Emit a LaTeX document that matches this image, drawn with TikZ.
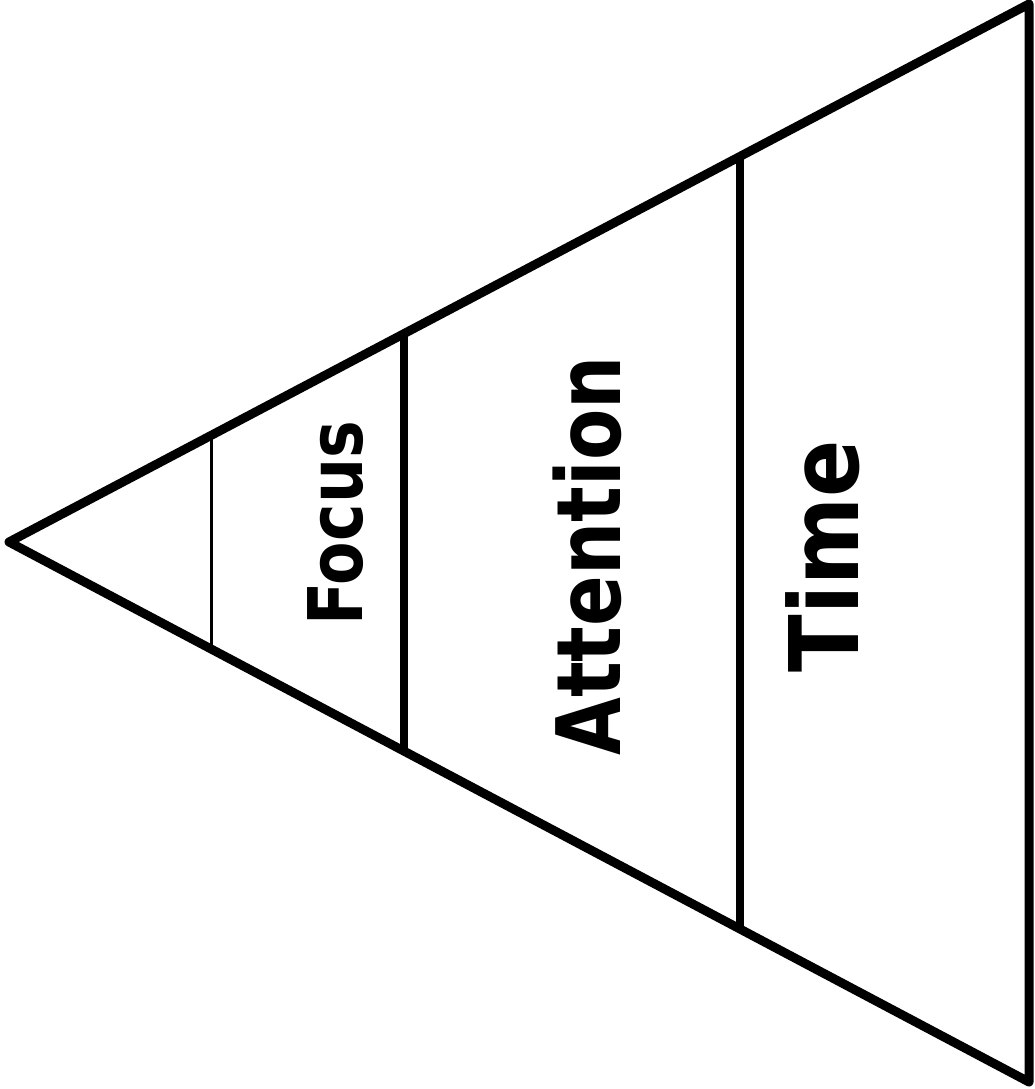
\documentclass[tikz,border=0pt]{standalone}
\usepackage{fontspec}
\setmainfont{DejaVu Sans}
\usetikzlibrary{calc}
\begin{document}
\begin{tikzpicture}[x=1pt,y=-1pt,
  outline/.style={line width=9pt,line join=round},
  divider/.style={line width=8.5pt},
  thindivider/.style={line width=3pt},
  label/.style={rotate=90,anchor=base,inner sep=0pt,font=\bfseries}]
\useasboundingbox (0,0) rectangle (1034,1089);
\coordinate (A) at (9,542);
\coordinate (B) at (1029,4);
\coordinate (C) at (1029,1082);
\draw[outline] (A) -- (B) -- (C) -- cycle;
\coordinate (t1) at ($(A)!0.1990!(B)$);
\coordinate (b1) at ($(A)!0.1990!(C)$);
\coordinate (t2) at ($(A)!0.3873!(B)$);
\coordinate (b2) at ($(A)!0.3873!(C)$);
\coordinate (t3) at ($(A)!0.7167!(B)$);
\coordinate (b3) at ($(A)!0.7167!(C)$);
\draw[thindivider] (t1) -- (b1);
\draw[divider] (t2) -- (b2);
\draw[divider] (t3) -- (b3);
\node[label] (focus) at (362,523.5) {\fontsize{75.4}{80}\selectfont\scalebox{0.84}[1]{Focus}};
\node[label] (attention) at (620,556) {\fontsize{89}{94}\selectfont\scalebox{0.84}[1]{Attention}};
\node[label] (time) at (858,556.5) {\fontsize{96}{100}\selectfont\scalebox{0.88}[1]{Time}};
\end{tikzpicture}
\end{document}
